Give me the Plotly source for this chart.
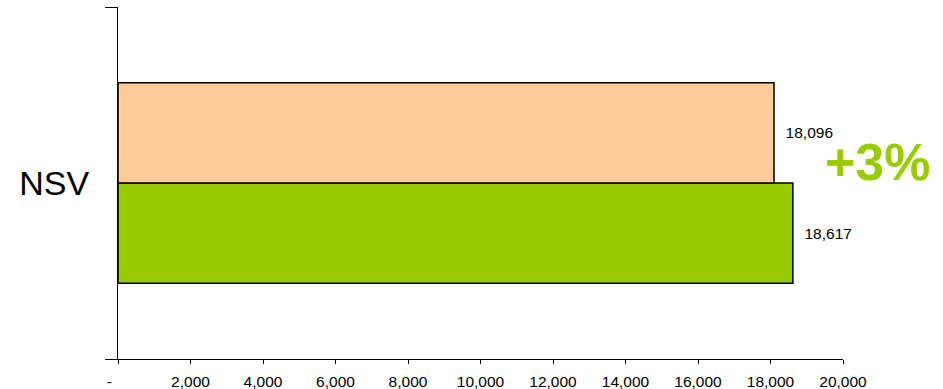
import plotly.graph_objects as go

categories = ["NSV"]
prior_values = [18096]
current_values = [18617]
change_label = "+3%"
tick_values = [0, 2000, 4000, 6000, 8000, 10000, 12000, 14000, 16000, 18000, 20000]
tick_labels = ["-\u00a0\u00a0\u00a0\u00a0", "2,000", "4,000", "6,000", "8,000", "10,000",
               "12,000", "14,000", "16,000", "18,000", "20,000"]

FONT = "Liberation Sans, Arial, sans-serif"
NB = "\u00a0\u00a0"

fig = go.Figure()
# current (green) first -> drawn at bottom of group
fig.add_trace(go.Bar(
    y=categories, x=current_values, orientation="h",
    marker=dict(color="#99CC00", line=dict(color="#000000", width=1.5)),
    text=[NB + f"{v:,}" for v in current_values], textposition="outside",
    textfont=dict(family=FONT, size=15.5, color="#000000"),
    cliponaxis=False, showlegend=False, hoverinfo="skip",
))
fig.add_trace(go.Bar(
    y=categories, x=prior_values, orientation="h",
    marker=dict(color="#FFCC99", line=dict(color="#000000", width=1.5)),
    text=[NB + f"{v:,}" for v in prior_values], textposition="outside",
    textfont=dict(family=FONT, size=15.5, color="#000000"),
    cliponaxis=False, showlegend=False, hoverinfo="skip",
))

fig.add_annotation(
    x=1.048, y=0.56, xref="paper", yref="paper",
    text=f"<b>{change_label}</b>", showarrow=False,
    font=dict(family=FONT, size=52, color="#99CC00"),
    xanchor="center", yanchor="middle",
)

fig.update_layout(
    width=943, height=389,
    margin=dict(l=118, r=100, t=7, b=30, autoexpand=False),
    paper_bgcolor="white", plot_bgcolor="white",
    barmode="group", bargap=0.43, bargroupgap=0,
    font=dict(family=FONT, color="#000000"),
)
fig.update_xaxes(
    range=[0, 20000], tickvals=tick_values, ticktext=tick_labels,
    showgrid=False, zeroline=False,
    showline=True, linecolor="#000000", linewidth=1,
    ticks="outside", ticklen=4, tickcolor="#000000", tickwidth=1,
    tickfont=dict(family=FONT, size=15.5, color="#000000"),
    ticklabelstandoff=4, automargin=False,
)
fig.update_yaxes(
    type="category", range=[-0.5, 0.5],
    showgrid=False, zeroline=False,
    showline=True, linecolor="#000000", linewidth=1,
    ticks="outside", tickson="boundaries", ticklen=12, tickcolor="#000000", tickwidth=1,
    tickfont=dict(family=FONT, size=34, color="#000000"),
    ticklabelstandoff=21, automargin=False,
)

fig.write_html("out.html")
